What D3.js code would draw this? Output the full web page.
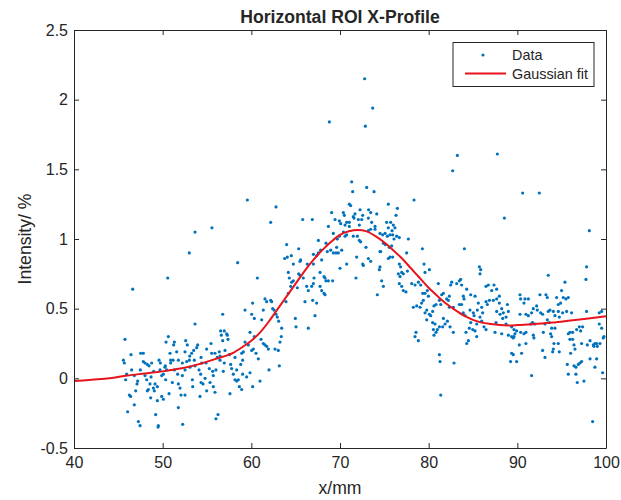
<!DOCTYPE html>
<html>
<head>
<meta charset="utf-8">
<script src="https://cdn.jsdelivr.net/npm/d3@7"></script>
<style>
  html, body { margin: 0; padding: 0; background: #ffffff; }
  svg { display: block; }
  text { font-family: "Liberation Sans", Arial, Helvetica, sans-serif; fill: #262626; }
</style>
</head>
<body>
<svg id="chart" width="621" height="500"></svg>
<script>
const titleText = "Horizontal ROI X-Profile";
const xLabel = "x/mm";
const yLabel = "Intensity/ %";
const legendLabels = ["Data", "Gaussian fit"];
const xTicks = [40, 50, 60, 70, 80, 90, 100];
const yTicks = [-0.5, 0, 0.5, 1, 1.5, 2, 2.5];
const xDomain = [40, 100];
const yDomain = [-0.5, 2.5];

// Measured data points [x (mm), intensity (%)]
const points = [
[50.57,0.72],[46.62,0.64],[45.75,0.28],[53.65,0.39],[53.65,1.05],[53.0,0.90],
[50.64,0.30],[50.38,0.26],[51.32,0.26],[51.24,0.24],[52.6,0.27],[52.78,0.24],[53.95,0.24],[53.84,0.22],
[47.82,0.18],[47.52,0.18],[50.83,0.18],[51.58,0.19],[52.52,0.19],[53.27,0.18],[53.5,0.20],[53.05,0.16],[53.57,0.13],[50.9,0.13],[51.17,0.13],
[45.57,0.13],[45.68,0.11],[46.43,0.17],[47.82,0.12],[48.01,0.11],[48.27,0.10],[48.46,0.09],[48.76,0.11],[49.59,0.13],[49.74,0.11],[50.3,0.09],[50.9,0.11],[51.77,0.13],[52.22,0.11],[52.71,0.12],[53.01,0.13],[54.33,0.15],[54.4,0.11],
[46.5,0.06],[47.48,0.06],[48.99,0.05],[49.7,0.06],[50.26,0.08],[50.45,0.06],[51.32,0.06],[52.52,0.06],[53.08,0.08],[53.65,0.09],[54.1,0.06],
[45.94,0.03],[46.8,0.02],[48.01,0.02],[48.2,-0.01],[48.69,0.01],[49.89,0.02],[50.08,0.03],[51.69,0.03],[52.22,0.02],[54.29,0.03],[54.78,0.00],
[45.83,-0.01],[47.18,-0.02],[47.11,-0.04],[48.57,-0.04],[49.14,-0.04],[49.4,-0.06],[50.34,-0.01],[51.09,-0.03],[51.77,-0.04],[51.96,-0.07],[53.35,-0.01],[53.39,-0.06],[54.33,-0.03],[54.55,-0.04],
[46.24,-0.12],[46.39,-0.13],[46.96,-0.09],[48.39,-0.08],[48.27,-0.09],[48.95,-0.07],[49.06,-0.09],[49.89,-0.13],[50.08,-0.15],[50.72,-0.11],[52.07,-0.12],[52.52,-0.12],[54.21,-0.13],
[48.65,-0.14],[49.4,-0.16],[46.8,-0.19],[51.77,-0.21],[46.05,-0.24],[49.21,-0.26],
[47.26,-0.31],[47.45,-0.34],[49.51,-0.34],[49.48,-0.35],[52.26,-0.33],
[55.56,1.08],[59.55,1.28],[62.78,1.23],[62.18,1.12],[65.79,1.14],[58.46,0.83],[60.68,0.72],[63.98,0.96],
[63.76,0.86],[64.06,0.87],[64.51,0.88],[65.34,0.93],[65.56,0.85],[65.49,0.84],[64.74,0.82],[66.31,0.82],
[64.17,0.76],[64.28,0.72],[64.74,0.70],[64.55,0.69],[65.34,0.75],[65.49,0.74],[65.86,0.72],[65.19,0.65],[66.24,0.66],[66.43,0.63],[66.05,0.55],[64.44,0.66],[64.17,0.61],[63.91,0.55],
[61.54,0.57],[61.73,0.55],[62.18,0.56],[62.41,0.50],[62.56,0.49],[62.29,0.55],[62.78,0.46],[62.93,0.44],
[60.15,0.54],[59.29,0.49],[60.04,0.46],[60.34,0.43],[61.17,0.42],[61.35,0.49],[63.08,0.41],[63.42,0.36],[64.96,0.43],[65.04,0.37],[66.43,0.36],
[56.77,0.46],[56.54,0.34],[56.95,0.34],[57.22,0.32],[56.62,0.31],[56.77,0.27],[57.29,0.31],[57.37,0.28],
[59.85,0.33],[60.34,0.30],[59.29,0.26],[59.66,0.24],[60.23,0.21],[61.09,0.28],[61.35,0.25],[61.54,0.24],[61.73,0.23],[61.92,0.21],[62.67,0.21],[63.04,0.20],[63.23,0.26],[63.38,0.30],
[55.45,0.25],[54.96,0.21],[55.53,0.18],[55.9,0.18],[56.16,0.15],[56.39,0.19],[56.47,0.16],[57.03,0.20],[57.52,0.17],[58.16,0.15],[58.91,0.18],[59.1,0.19],[60.04,0.20],[60.53,0.18],[60.79,0.14],
[54.89,0.11],[55.26,0.07],[55.64,0.05],[55.71,0.02],[56.01,0.06],[56.47,0.13],[56.84,0.05],[56.95,0.11],[57.67,0.10],[57.78,0.07],[58.35,0.06],[58.8,0.10],[59.02,0.13],
[57.97,0.03],[58.16,-0.01],[58.53,-0.01],[58.35,-0.02],[59.02,0.03],[59.47,0.01],[59.85,0.04],[61.99,0.06],[63.16,0.09],[60.98,-0.02],[60.15,-0.06],[58.65,-0.06],[58.91,-0.08],[57.59,-0.11],[55.34,-0.03],[55.71,-0.06],[55.9,-0.10],[54.96,-0.09],[56.01,-0.29],[56.24,-0.26],
[72.78,2.15],[73.69,1.94],[68.8,1.84],[72.86,1.81],[71.32,1.41],[71.43,1.34],[73.01,1.37],[73.84,1.34],[71.05,1.25],[71.2,1.24],[75.45,1.25],[69.06,1.19],[70.38,1.19],[70.49,1.17],[71.69,1.18],[72.26,1.21],[72.56,1.17],[73.23,1.21],[73.46,1.19],[74.14,1.18],[76.47,1.22],[76.32,1.17],
[66.88,1.14],[68.69,1.09],[69.44,1.14],[69.93,1.13],[70.08,1.11],[70.57,1.10],[70.75,1.12],[71.05,1.12],[71.5,1.16],[71.58,1.15],[72.07,1.14],[72.45,1.14],[73.2,1.15],[72.18,1.10],
[73.57,1.12],[73.95,1.09],[75.26,1.12],[75.72,1.12],[76.02,1.10],[76.2,1.08],[75.87,1.06],
[69.25,1.04],[70.38,1.05],[70.75,1.03],[71.05,1.09],[73.2,1.06],[73.46,1.07],[73.95,1.07],[75.45,1.08],
[69.7,1.00],[69.93,1.02],[70.57,1.02],[71.5,1.02],[69.62,0.94],[70.19,0.92],
[67.56,0.99],[67.0,0.89],[67.37,0.88],[67.82,0.92],[68.42,0.97],[68.57,0.91],[68.95,0.92],[69.25,0.90],[69.55,0.90],[69.81,0.90],
[71.96,1.02],[72.18,0.99],[72.33,0.98],
[74.51,1.04],[74.81,1.03],[75.08,1.04],[75.34,1.02],[75.64,1.03],[75.94,1.03],[76.09,1.00],[76.39,1.02],[76.69,1.01],
[74.89,0.97],[75.11,0.96],[75.56,0.94],[75.83,0.95],[75.64,0.87],[75.45,0.86],[75.94,0.87],[77.71,1.00],[77.52,0.90],
[72.93,0.94],[74.51,0.91],[74.59,0.91],[71.88,0.87],[73.2,0.86],[73.46,0.84],[70.75,0.82],[72.56,0.82],[72.63,0.81],
[70.0,0.79],[69.17,0.70],[68.69,0.70],[68.42,0.70],[68.31,0.72],[67.56,0.90],[67.93,0.85],[67.75,0.76],[68.2,0.73],[67.0,0.82],
[67.07,0.72],[67.0,0.68],[66.81,0.66],[67.75,0.66],[67.93,0.63],[68.2,0.61],[68.31,0.60],[66.92,0.56],[67.37,0.54],[67.18,0.45],
[71.8,0.72],[74.21,0.60],[74.44,0.78],[74.51,0.80],[74.7,0.70],[74.89,0.66],
[76.69,0.82],[76.84,0.80],[76.58,0.75],[76.77,0.73],[76.69,0.68],[76.96,0.66],[77.14,0.63],[77.44,0.62],[76.96,0.76],[77.14,0.75],[77.6,0.77],
[83.24,1.60],[82.71,1.49],[87.75,1.61],[78.35,1.28],[88.54,1.15],[79.29,0.93],[84.03,0.93],[79.48,0.82],[79.59,0.76],[80.08,0.78],[85.72,0.80],[85.87,0.78],[85.79,0.75],
[78.09,0.68],[78.46,0.67],[78.84,0.69],[79.1,0.67],[79.33,0.61],[79.59,0.61],[79.85,0.63],[79.97,0.59],[81.09,0.68],[81.47,0.60],[81.66,0.61],
[82.6,0.69],[82.48,0.67],[83.16,0.68],[83.46,0.70],[83.72,0.67],[83.61,0.71],[84.29,0.64],[83.91,0.59],[82.33,0.59],[82.03,0.57],[82.22,0.56],[83.46,0.53],[83.72,0.53],[83.99,0.57],
[84.74,0.60],[85.23,0.59],[85.6,0.54],[85.98,0.51],[85.49,0.49],[85.04,0.47],[84.66,0.49],[85.12,0.45],[85.79,0.44],[86.09,0.47],
[86.47,0.66],[86.73,0.67],[87.11,0.63],[87.37,0.67],[87.67,0.64],[87.97,0.59],[87.67,0.57],[87.3,0.56],[86.85,0.56],[86.47,0.55],[86.62,0.53],
[87.97,0.54],[88.24,0.50],[88.42,0.47],[88.88,0.53],[88.99,0.48],[88.73,0.44],[88.35,0.43],[88.05,0.46],[87.67,0.48],
[87.6,0.40],[87.48,0.33],[88.24,0.32],[88.99,0.31],[88.73,0.39],
[86.24,0.37],[86.47,0.35],[85.98,0.41],[85.42,0.39],[84.74,0.40],[84.59,0.36],[84.97,0.35],[85.23,0.34],[85.42,0.30],[84.21,0.33],[84.48,0.27],[84.29,0.25],
[82.78,0.33],[82.41,0.37],[82.11,0.41],[81.66,0.43],[81.85,0.39],[81.58,0.37],[82.78,0.51],[82.33,0.51],
[78.27,0.51],[78.65,0.52],[79.03,0.51],[79.21,0.54],[79.4,0.56],[79.59,0.47],[79.78,0.49],[80.08,0.46],[80.23,0.45],[80.45,0.48],[80.6,0.52],[80.83,0.53],[81.21,0.56],[81.36,0.53],
[79.78,0.42],[80.45,0.40],[80.72,0.39],[80.53,0.35],[80.83,0.33],[80.6,0.31],[80.98,0.35],[81.21,0.37],
[78.57,0.33],[78.46,0.30],[78.84,0.27],[81.21,0.17],[81.28,0.12],[82.86,0.11],[81.36,-0.12],[83.91,0.47],[84.1,0.45],
[90.6,1.33],[92.48,1.33],[98.12,1.06],[97.81,0.80],[97.74,0.71],[93.49,0.74],[95.37,0.69],[94.99,0.63],[95.18,0.58],[95.48,0.57],[95.75,0.58],
[90.3,0.60],[90.37,0.57],[90.86,0.57],[91.24,0.57],[90.75,0.54],[92.55,0.60],[93.23,0.60],[93.38,0.58],[94.62,0.53],[94.88,0.54],[94.43,0.58],
[91.8,0.50],[92.18,0.52],[92.25,0.49],[92.63,0.47],[92.85,0.46],[91.61,0.47],[91.24,0.45],[90.97,0.46],[90.3,0.46],
[93.68,0.49],[93.49,0.48],[94.06,0.48],[94.62,0.48],[95.11,0.47],[95.56,0.48],[96.12,0.47],[94.24,0.45],[94.73,0.44],
[93.38,0.42],[93.6,0.40],[93.12,0.39],[94.24,0.36],[93.87,0.36],
[97.81,0.48],[99.24,0.47],[99.51,0.48],
[96.99,0.37],[97.36,0.37],[96.69,0.35],[97.14,0.34],[96.24,0.33],[95.75,0.32],[95.93,0.33],
[99.24,0.39],[99.51,0.36],[99.77,0.30],
[89.36,0.37],[89.62,0.35],[89.92,0.34],[89.73,0.32],
[90.37,0.33],[90.75,0.32],[90.97,0.33],[91.5,0.39],[91.72,0.40],[91.99,0.39],
[92.93,0.33],[93.75,0.32],[93.87,0.30],[94.13,0.25],[94.62,0.25],[94.06,0.21],
[91.8,0.31],[91.87,0.29],[90.97,0.25],[90.22,0.24],[89.62,0.30],[89.54,0.29],[89.36,0.30],
[89.36,0.18],[89.54,0.17],[89.24,0.12],[89.92,0.12],[90.48,0.18],
[92.85,0.20],[93.12,0.15],[93.98,0.19],[94.73,0.19],[96.01,0.18],[95.93,0.28],[96.24,0.28],
[96.39,0.24],[96.5,0.21],[97.25,0.25],[97.89,0.24],[98.2,0.27],[98.57,0.24],[98.75,0.25],[98.94,0.25],[99.02,0.23],[98.64,0.23],[99.32,0.25],[99.69,0.29],
[98.2,0.14],[98.94,0.14],[95.63,0.10],[96.39,0.09],[96.61,0.08],[96.88,0.10],[97.06,0.11],[97.25,0.12],
[98.75,0.08],[99.62,0.04],[95.75,0.03],[96.61,0.03],[96.76,-0.03],[97.51,-0.02],[91.61,0.02],[98.49,-0.31]
];

// Gaussian fit curve
const fitX = [40,42,44,46,48,50,52,54,56,58,59,60,61,62,63,64,65,66,67,68,69,70,71,72,73,74,75,76,77,78,79,80,81,82,83,84,85,86,87,88,89,90,92,94,96,98,100];
const fitY = [-0.02,-0.01,0.0,0.02,0.035,0.05,0.07,0.10,0.14,0.185,0.225,0.27,0.33,0.41,0.50,0.59,0.68,0.77,0.85,0.92,0.98,1.03,1.055,1.065,1.055,1.02,0.975,0.92,0.86,0.79,0.72,0.65,0.59,0.535,0.49,0.45,0.42,0.40,0.39,0.383,0.38,0.382,0.39,0.40,0.415,0.43,0.445];

const dataColor = "#0072BD";
const fitColor = "#e8141c";
const axisColor = "#262626";

const svg = d3.select("#chart");
const W = 621, H = 500;
const m = { left: 74, right: 15, top: 30, bottom: 52 };
const x0 = m.left, x1 = W - m.right, y0 = m.top, y1 = H - m.bottom;

const x = d3.scaleLinear().domain(xDomain).range([x0, x1]);
const y = d3.scaleLinear().domain(yDomain).range([y1, y0]);

svg.append("rect").attr("width", W).attr("height", H).attr("fill", "#fff");

svg.append("clipPath").attr("id", "clip")
  .append("rect").attr("x", x0).attr("y", y0).attr("width", x1 - x0).attr("height", y1 - y0);

const plot = svg.append("g").attr("clip-path", "url(#clip)");

plot.selectAll("circle.pt").data(points).join("circle")
  .attr("class", "pt")
  .attr("cx", d => x(d[0])).attr("cy", d => y(d[1]))
  .attr("r", 1.6).attr("fill", dataColor);

const fitData = fitX.map((v, i) => [v, fitY[i]]);
const line = d3.line().x(d => x(d[0])).y(d => y(d[1])).curve(d3.curveMonotoneX);
plot.append("path").datum(fitData)
  .attr("d", line).attr("fill", "none")
  .attr("stroke", fitColor).attr("stroke-width", 2);

const fmt = v => String(v);
const tickLen = 5;
function styleAxis(g) {
  g.selectAll("path.domain").attr("stroke", axisColor).attr("stroke-width", 1);
  g.selectAll(".tick line").attr("stroke", axisColor).attr("stroke-width", 1);
  g.selectAll(".tick text").attr("fill", axisColor)
    .style("font-family", '"Liberation Sans", Arial, sans-serif').style("font-size", "16px");
}
const gx = svg.append("g").attr("transform", `translate(0,${y1})`)
  .call(d3.axisBottom(x).tickValues(xTicks).tickFormat(fmt).tickSizeInner(-tickLen).tickSizeOuter(0).tickPadding(9));
styleAxis(gx);
const gxt = svg.append("g").attr("transform", `translate(0,${y0})`)
  .call(d3.axisTop(x).tickValues(xTicks).tickFormat("").tickSizeInner(-tickLen).tickSizeOuter(0));
styleAxis(gxt);
const gy = svg.append("g").attr("transform", `translate(${x0},0)`)
  .call(d3.axisLeft(y).tickValues(yTicks).tickFormat(fmt).tickSizeInner(-tickLen).tickSizeOuter(0).tickPadding(6));
styleAxis(gy);
const gyr = svg.append("g").attr("transform", `translate(${x1},0)`)
  .call(d3.axisRight(y).tickValues(yTicks).tickFormat("").tickSizeInner(-tickLen).tickSizeOuter(0));
styleAxis(gyr);

svg.append("text").attr("x", (x0 + x1) / 2).attr("y", 23)
  .attr("text-anchor", "middle").style("font-size", "17.6px").style("font-weight", "bold")
  .text(titleText);
svg.append("text").attr("x", (x0 + x1) / 2).attr("y", 494)
  .attr("text-anchor", "middle").style("font-size", "17.6px")
  .text(xLabel);
svg.append("text").attr("transform", `translate(31,${(y0 + y1) / 2}) rotate(-90)`)
  .attr("text-anchor", "middle").style("font-size", "17.6px")
  .text(yLabel);

const lg = svg.append("g");
lg.append("rect").attr("x", 453).attr("y", 42.5).attr("width", 141).attr("height", 44)
  .attr("fill", "#fff").attr("stroke", axisColor).attr("stroke-width", 1);
lg.append("circle").attr("cx", 483).attr("cy", 55).attr("r", 1.6).attr("fill", dataColor);
lg.append("line").attr("x1", 465).attr("x2", 506).attr("y1", 73.5).attr("y2", 73.5)
  .attr("stroke", fitColor).attr("stroke-width", 2);
lg.selectAll("text.lg").data(legendLabels).join("text")
  .attr("class", "lg")
  .attr("x", 512).attr("y", (d, i) => 55 + i * 18.5)
  .attr("dy", "0.35em").style("font-size", "14.4px")
  .text(d => d);
</script>
</body>
</html>
